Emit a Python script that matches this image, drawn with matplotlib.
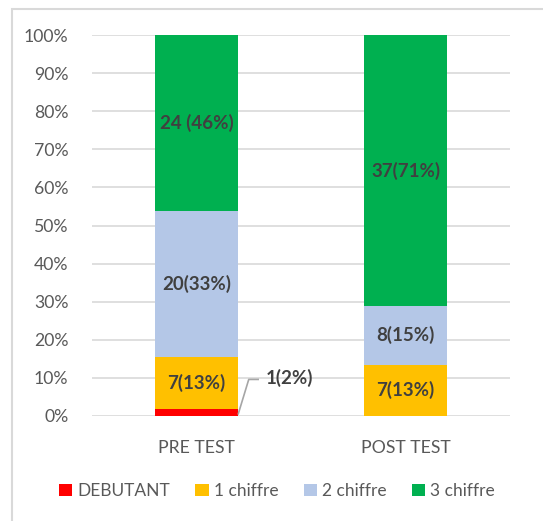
import numpy as np
import matplotlib.pyplot as plt
from matplotlib.patches import Rectangle

tests = ["PRE TEST", "POST TEST"]
series = ["DEBUTANT", "1 chiffre", "2 chiffre", "3 chiffre"]
counts = {
    "DEBUTANT": [1, 0],
    "1 chiffre": [7, 7],
    "2 chiffre": [20, 8],
    "3 chiffre": [24, 37],
}
labels = {
    "DEBUTANT": ["1(2%)", ""],
    "1 chiffre": ["7(13%)", "7(13%)"],
    "2 chiffre": ["20(33%)", "8(15%)"],
    "3 chiffre": ["24 (46%)", "37(71%)"],
}
colors = ["#ff0000", "#ffc000", "#b4c7e7", "#00b050"]

plt.rcParams['font.family'] = ['Lato', 'DejaVu Sans']

W, H = 543, 521
fig = plt.figure(figsize=(W / 100, H / 100), dpi=100)
ax = fig.add_axes([92 / W, 1 - 416 / H, 418 / W, 381 / H])

# chart area border (right and bottom are cut off in the reference)
fig.patches.append(Rectangle((12 / W, -0.1), 1.2, 1 - 9 / H + 0.1,
                             transform=fig.transFigure, fill=False,
                             edgecolor="#d9d9d9", linewidth=1.5))

totals = np.sum([counts[s] for s in series], axis=0)
x = np.arange(len(tests))
bottom = np.zeros(len(tests))
for s, c in zip(series, colors):
    vals = np.array(counts[s]) / totals * 100
    ax.bar(x, vals, width=0.40, bottom=bottom, color=c, label=s, zorder=3)
    for i in range(len(tests)):
        if labels[s][i] and vals[i] > 5:
            ax.text(x[i], bottom[i] + vals[i] / 2, labels[s][i], ha='center',
                    va='center', fontsize=13.5, fontweight='bold',
                    color='#404040', zorder=4)
    bottom += vals

# small DEBUTANT label with leader line
v0 = counts["DEBUTANT"][0] / totals[0] * 100
ax.plot([0.2, 0.25, 0.295], [v0 * 0.3, 9.6, 9.6], color='#a6a6a6',
        linewidth=1.2, zorder=4, clip_on=False)
ax.text(0.33, 9.9, labels["DEBUTANT"][0], ha='left', va='center',
        fontsize=13.5, fontweight='bold', color='#404040')

ax.set_xlim(-0.5, 1.5)
ax.set_ylim(0, 100)
ax.set_yticks(np.arange(0, 101, 10))
ax.set_yticklabels([f"{t}%" for t in range(0, 101, 10)])
ax.set_xticks(x)
ax.set_xticklabels(tests)
ax.tick_params(length=0, labelsize=12.7, colors='#595959')
ax.tick_params(axis='x', pad=17)
ax.tick_params(axis='y', pad=17)
ax.grid(axis='y', color='#d9d9d9', linewidth=1.2, zorder=0)
for sp in ax.spines.values():
    sp.set_visible(False)

fig.legend(loc='center', bbox_to_anchor=(0.51, 1 - 491 / H), ncol=4,
           frameon=False, fontsize=12.5, handlelength=0.75, handleheight=0.75,
           handletextpad=0.3, columnspacing=1.45, labelcolor='#595959')

fig.savefig("out.png", dpi=100)
